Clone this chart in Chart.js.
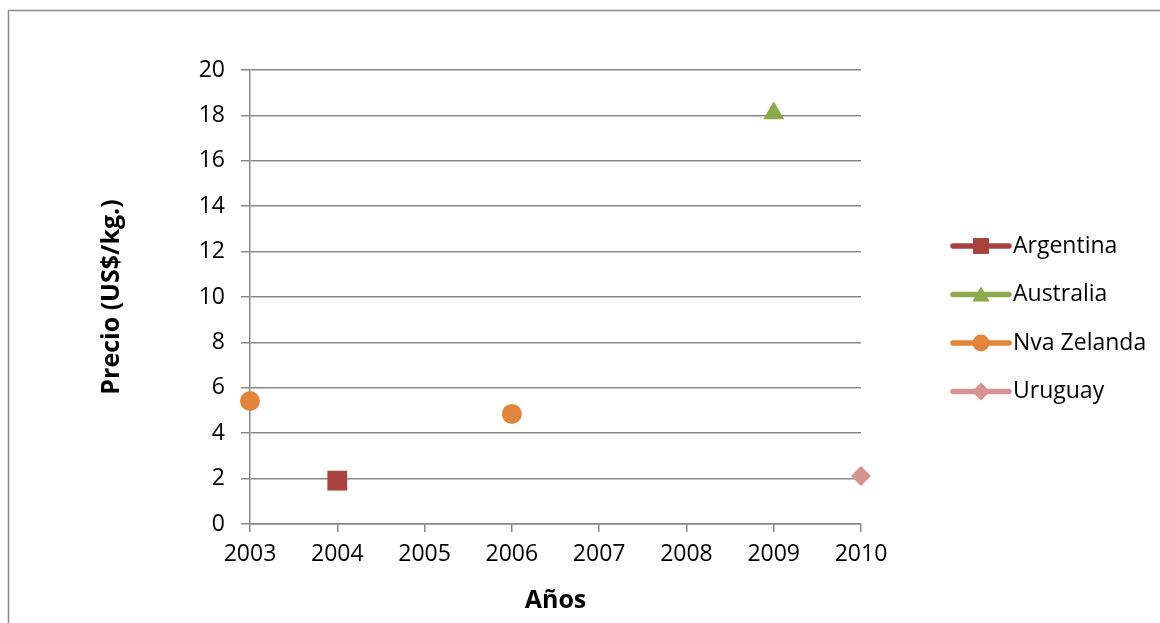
<!DOCTYPE html>
<html>
<head>
<meta charset="utf-8">
<script src="https://cdn.jsdelivr.net/npm/chart.js@4/dist/chart.umd.min.js"></script>
<style>
  html, body { margin: 0; padding: 0; background: #fff; }
  #wrap { width: 1160px; height: 623px; }
</style>
</head>
<body>
<div id="wrap"><canvas id="c" width="1160" height="623"></canvas></div>
<script>
// Export price by country and year
const seriesNames = ['Argentina', 'Australia', 'Nva Zelanda', 'Uruguay'];
const argentinaYears = [2004];
const argentinaPrices = [1.91];
const australiaYears = [2009];
const australiaPrices = [18.1];
const nvaZelandaYears = [2003, 2006];
const nvaZelandaPrices = [5.42, 4.85];
const uruguayYears = [2010];
const uruguayPrices = [2.11];
const yearTicks = [2003, 2004, 2005, 2006, 2007, 2008, 2009, 2010];
const priceTicks = [0, 2, 4, 6, 8, 10, 12, 14, 16, 18, 20];

const colors = ['#A8423F', '#8CAA4B', '#E2843B', '#D69391'];
const shapes = ['rect', 'triangle', 'circle', 'rectRot'];
const radii = [14, 12, 10, 10];
const legendRadii = [11.3, 10, 8.5, 9];

const FONT = '"Open Sans", "Liberation Sans", sans-serif';

function pts(xs, ys) { return xs.map((x, i) => ({ x: x, y: ys[i] })); }

const seriesData = [
  pts(argentinaYears, argentinaPrices),
  pts(australiaYears, australiaPrices),
  pts(nvaZelandaYears, nvaZelandaPrices),
  pts(uruguayYears, uruguayPrices)
];

const datasets = seriesNames.map((name, i) => ({
  label: name,
  data: seriesData[i],
  showLine: false,
  pointStyle: shapes[i],
  pointRadius: radii[i],
  pointHoverRadius: radii[i],
  pointBackgroundColor: colors[i],
  pointBorderColor: colors[i],
  pointBorderWidth: 0,
  borderColor: colors[i],
  backgroundColor: colors[i],
  clip: false
}));

// Outer frame of the chart
const framePlugin = {
  id: 'frame',
  beforeDraw(chart) {
    const ctx = chart.ctx;
    ctx.save();
    ctx.strokeStyle = '#8a8a8a';
    ctx.lineWidth = 1.5;
    ctx.strokeRect(8.5, 10.5, 1300, 800);
    ctx.restore();
  }
};

// Legend on the right: line sample with the marker on top
const sideLegend = {
  id: 'sideLegend',
  afterDraw(chart) {
    const ctx = chart.ctx;
    const x0 = 953, x1 = 1009, xm = 981, tx = 1013;
    const rows = [246, 294.5, 343, 391.5];
    ctx.save();
    chart.data.datasets.forEach((ds, i) => {
      const y = rows[i];
      ctx.strokeStyle = colors[i];
      ctx.lineWidth = 5.5;
      ctx.lineCap = 'round';
      ctx.beginPath();
      ctx.moveTo(x0, y);
      ctx.lineTo(x1, y);
      ctx.stroke();
      ctx.fillStyle = colors[i];
      ctx.strokeStyle = colors[i];
      ctx.lineWidth = 0;
      Chart.helpers.drawPoint(ctx, { pointStyle: shapes[i], radius: legendRadii[i], borderWidth: 0, rotation: 0 }, xm, shapes[i] === 'triangle' ? y + 2 : y);
      ctx.fillStyle = '#000';
      ctx.font = '23px ' + FONT;
      ctx.textAlign = 'left';
      ctx.textBaseline = 'middle';
      ctx.fillText(ds.label, tx, y);
    });
    ctx.restore();
  }
};

new Chart(document.getElementById('c'), {
  type: 'scatter',
  data: { datasets: datasets },
  plugins: [framePlugin, sideLegend],
  options: {
    responsive: false,
    animation: false,
    devicePixelRatio: 1,
    layout: { padding: { left: 0, top: 70, right: 299, bottom: 0 } },
    plugins: {
      legend: { display: false },
      tooltip: { enabled: false }
    },
    scales: {
      x: {
        type: 'linear',
        min: yearTicks[0],
        max: yearTicks[yearTicks.length - 1],
        afterBuildTicks(scale) { scale.ticks = yearTicks.map(v => ({ value: v })); },
        afterFit(scale) { scale.height = 99; },
        border: { display: true, color: '#888', width: 1.5 },
        grid: { drawOnChartArea: false, drawTicks: true, tickLength: 8, color: '#888', lineWidth: 1.5 },
        ticks: {
          padding: 9,
          color: '#000',
          font: { family: FONT, size: 23 },
          callback: v => String(v)
        },
        title: {
          display: true,
          text: 'Años',
          color: '#000',
          font: { family: FONT, size: 25, weight: 'bold' },
          padding: { top: 0, bottom: 7 }
        }
      },
      y: {
        min: priceTicks[0],
        max: priceTicks[priceTicks.length - 1],
        afterBuildTicks(scale) { scale.ticks = priceTicks.map(v => ({ value: v })); },
        afterFit(scale) { scale.width = 250; },
        border: { display: true, color: '#888', width: 1.5 },
        grid: { drawTicks: true, tickLength: 9, color: '#888', lineWidth: 1.5 },
        ticks: {
          padding: 16,
          color: '#000',
          font: { family: FONT, size: 23 }
        },
        title: {
          display: true,
          text: 'Precio (US$/kg.)',
          color: '#000',
          font: { family: FONT, size: 25, weight: 'bold' },
          padding: { top: 97, bottom: 0 }
        }
      }
    }
  }
});
</script>
</body>
</html>
